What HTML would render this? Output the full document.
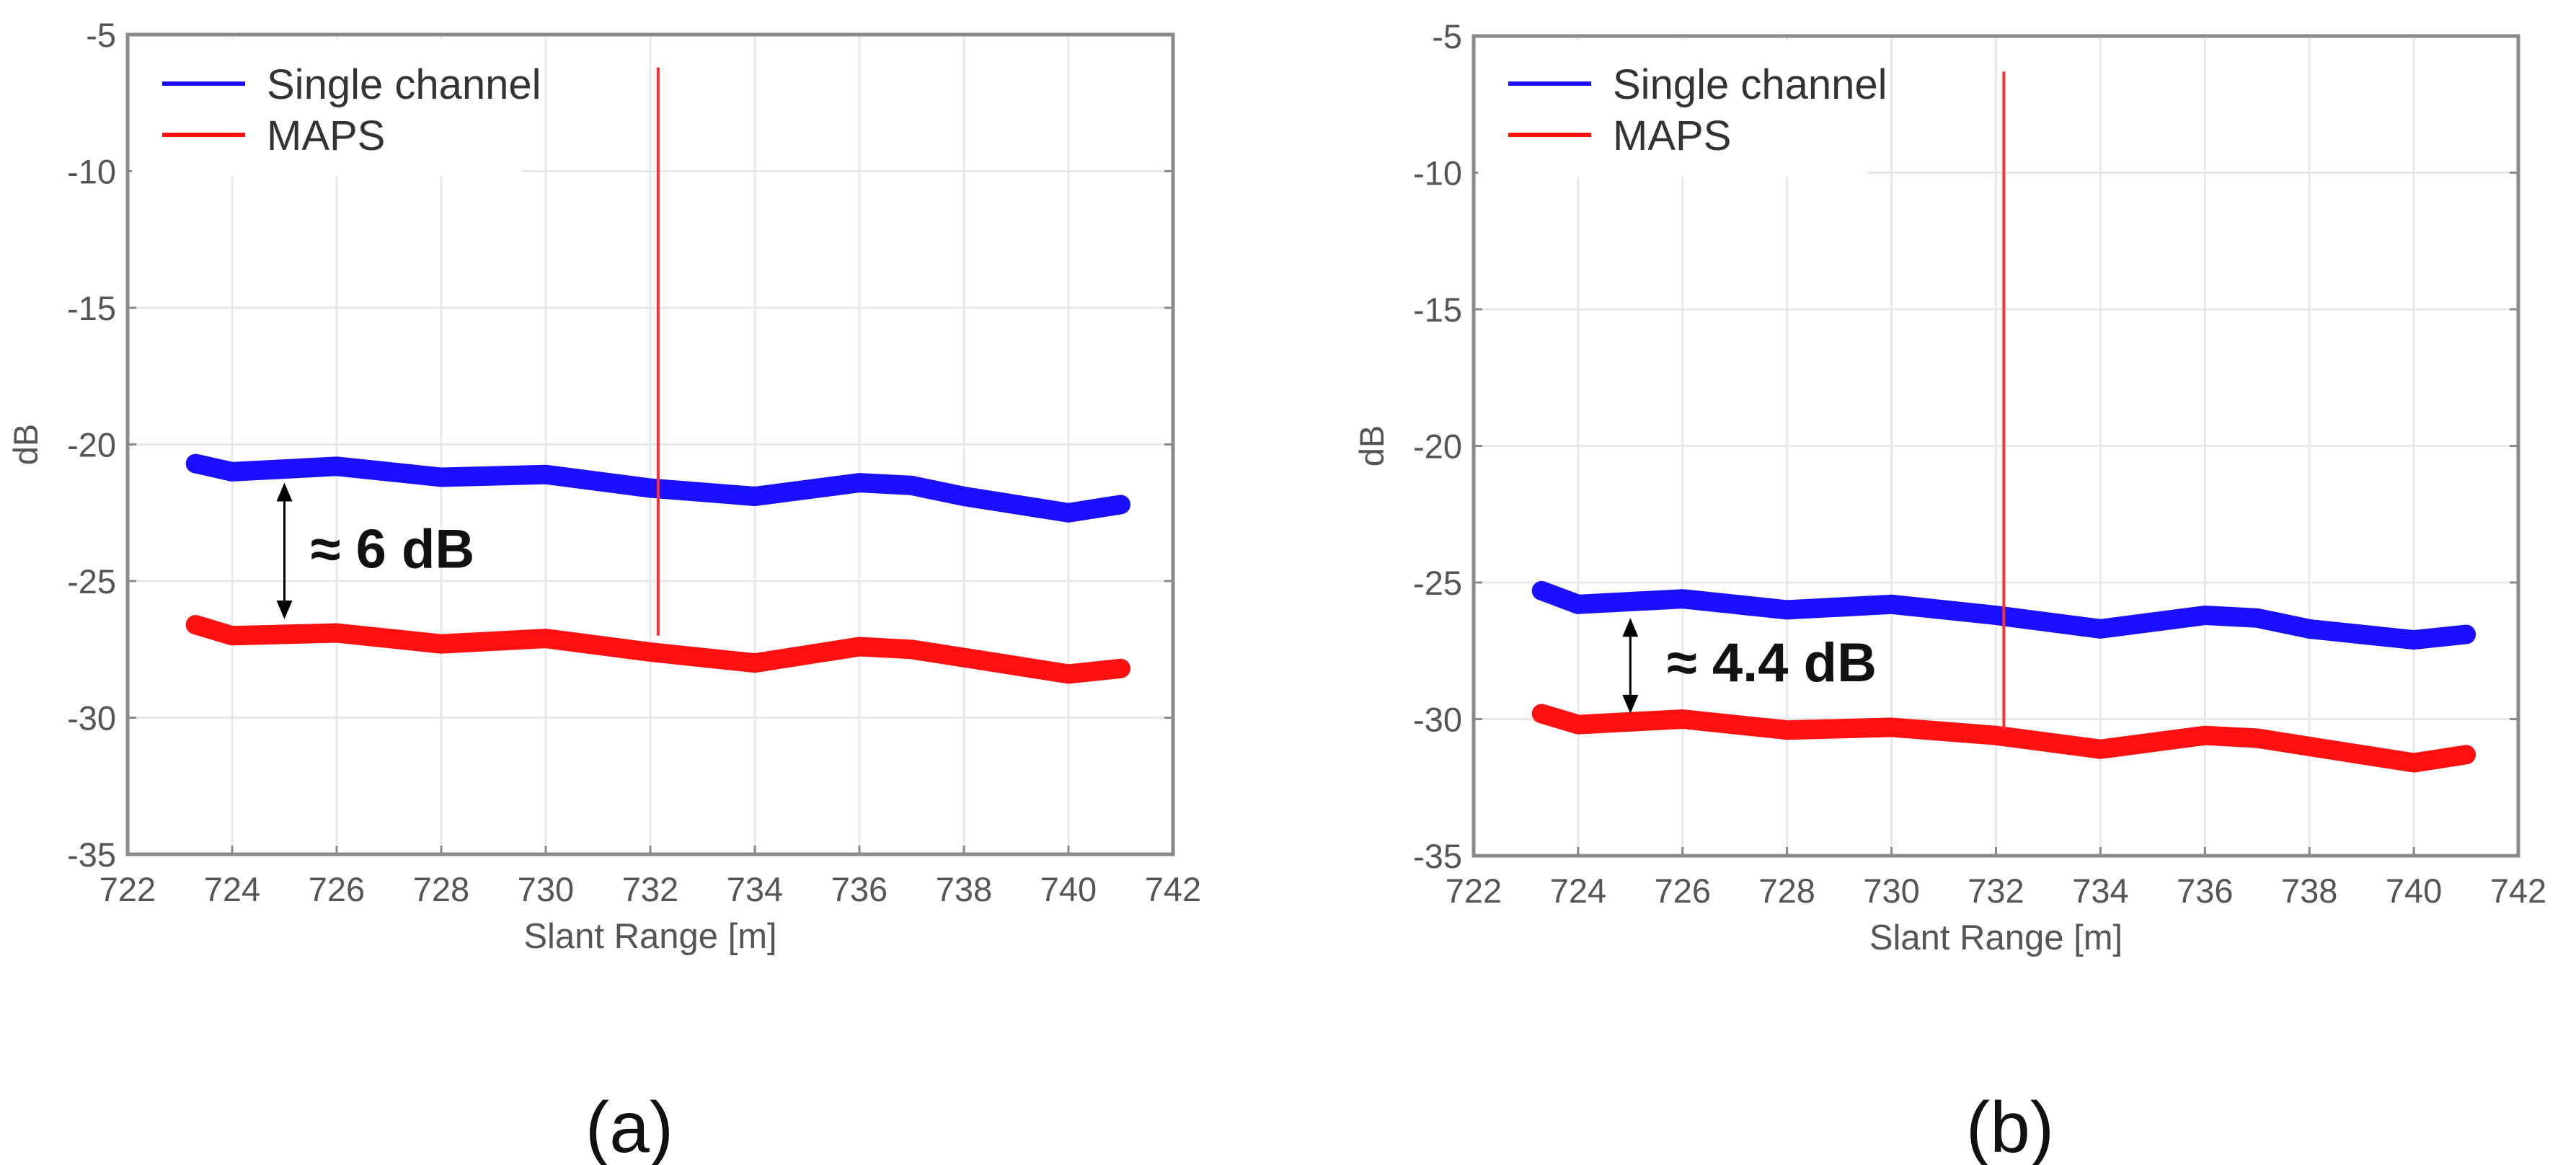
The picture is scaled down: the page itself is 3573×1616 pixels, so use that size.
<!DOCTYPE html>
<html><head><meta charset="utf-8"><style>
body{margin:0;background:#fff;}
svg{display:block;font-family:"Liberation Sans",sans-serif;}
</style></head><body>
<svg id="fig" width="3573" height="1616" viewBox="0 0 3573 1616"></svg>
<script>
const xTicks=[722,724,726,728,730,732,734,736,738,740,742];
const yTicks=[-5,-10,-15,-20,-25,-30,-35];
const rangeX=[723.3,724,726,728,730,732,734,736,737,738,740,741];
const singleA=[-20.7,-21.0,-20.8,-21.2,-21.1,-21.6,-21.9,-21.4,-21.5,-21.9,-22.5,-22.2];
const mapsA=[-26.6,-27.0,-26.9,-27.3,-27.1,-27.6,-28.0,-27.4,-27.5,-27.8,-28.4,-28.2];
const singleB=[-25.3,-25.8,-25.6,-26.0,-25.8,-26.2,-26.7,-26.2,-26.3,-26.7,-27.1,-26.9];
const mapsB=[-29.8,-30.2,-30.0,-30.4,-30.3,-30.6,-31.1,-30.6,-30.7,-31.0,-31.6,-31.3];
const spikeX=[732.15,732.15];
const spikeA=[-27.0,-6.2];
const spikeB=[-30.4,-6.3];
const gapLabels=["≈ 6 dB","≈ 4.4 dB"];
const gapArrowA=[-21.4,-26.4];
const gapArrowB=[-26.3,-29.8];

const NS="http://www.w3.org/2000/svg";
const svg=document.getElementById('fig');
function mk(tag,attrs,parent){const e=document.createElementNS(NS,tag);for(const k in attrs)e.setAttribute(k,attrs[k]);(parent||svg).appendChild(e);return e;}

function panel(L,T,R,B,sing,maps,spike,arrow,label,labelPos,tag,tagX,name){
  const g=mk('g',{});
  
  
  const sx=v=>L+(v-722)/20*(R-L);
  const sy=v=>T+(-5-v)/30*(B-T);
  xTicks.forEach(t=>{const l=mk('line',{x1:sx(t),x2:sx(t),y1:T,y2:B,stroke:'#e8e8e8','stroke-width':3},g);
    
    mk('line',{x1:sx(t),x2:sx(t),y1:B,y2:B-12,stroke:'#888','stroke-width':3},g);
    const tx=mk('text',{x:sx(t),y:B+65,'text-anchor':'middle','font-size':47,fill:'#555'},g);tx.textContent=t;
    });
  yTicks.forEach(t=>{const l=mk('line',{x1:L,x2:R,y1:sy(t),y2:sy(t),stroke:'#e8e8e8','stroke-width':3},g);
    
    mk('line',{x1:L,x2:L+12,y1:sy(t),y2:sy(t),stroke:'#888','stroke-width':3},g);
    mk('line',{x1:R,x2:R-12,y1:sy(t),y2:sy(t),stroke:'#888','stroke-width':3},g);
    const tx=mk('text',{x:L-16,y:sy(t)+17,'text-anchor':'end','font-size':47,fill:'#555'},g);tx.textContent=t;
    });
  const lb=mk('rect',{x:L+6,y:T+6,width:540,height:190,fill:'#fff'},g);
  
  const pts=arr=>arr.map((v,i)=>sx(rangeX[i]).toFixed(1)+','+sy(v).toFixed(1)).join(' ');
  const sb=mk('polyline',{points:pts(sing),fill:'none',stroke:'#1a10ff','stroke-width':27,'stroke-linejoin':'round','stroke-linecap':'round'},g);
  
  const mr=mk('polyline',{points:pts(maps),fill:'none',stroke:'#ff1010','stroke-width':27,'stroke-linejoin':'round','stroke-linecap':'round'},g);
  
  const sp=mk('line',{x1:sx(spikeX[0]),x2:sx(spikeX[1]),y1:sy(spike[0]),y2:sy(spike[1]),stroke:'#ff3030','stroke-width':4},g);
  
  const ax=mk('rect',{x:L,y:T,width:R-L,height:B-T,fill:'none',stroke:'#8a8a8a','stroke-width':5},g);
  
  [['Single channel','#1a10ff',116],['MAPS','#ff1010',187]].forEach(([t,c,y])=>{
    const e=mk('g',{},g);
    
    mk('line',{x1:L+48,x2:L+163,y1:y,y2:y,stroke:c,'stroke-width':6},e);
    const tx=mk('text',{x:L+193,y:y+21,'font-size':58,fill:'#333'},e);tx.textContent=t;});
  const ax1=sx(725);
  const ar=mk('g',{},g);
  
  const ya=sy(arrow[0]),yb=sy(arrow[1]);
  mk('line',{x1:ax1,x2:ax1,y1:ya+20,y2:yb-20,stroke:'#000','stroke-width':3},ar);
  mk('polygon',{points:`${ax1},${ya} ${ax1-11},${ya+26} ${ax1+11},${ya+26}`,fill:'#000'},ar);
  mk('polygon',{points:`${ax1},${yb} ${ax1-11},${yb-26} ${ax1+11},${yb-26}`,fill:'#000'},ar);
  const gl=mk('text',{x:sx(labelPos[0]),y:sy(labelPos[1])+27,'font-size':76,'font-weight':'bold',fill:'#111'},g);
  gl.textContent=label;
  
  const xl=mk('text',{x:(L+R)/2,y:B+130,'text-anchor':'middle','font-size':49,fill:'#555'},g);xl.textContent='Slant Range [m]';
  
  const yl=mk('text',{x:0,y:0,'text-anchor':'middle','font-size':47,fill:'#555',transform:`translate(${L-125},${sy(-20)}) rotate(-90)`},g);yl.textContent='dB';
  
  const tg=mk('text',{x:tagX,y:1598,'text-anchor':'middle','font-size':100,fill:'#111'},g);tg.textContent=tag;
  
}
panel(177,48,1627,1185,singleA,mapsA,spikeA,gapArrowA,gapLabels[0],[725.5,-23.8],'(a)',873,'panel-a');
panel(2044,50,3493,1187,singleB,mapsB,spikeB,gapArrowB,gapLabels[1],[725.7,-27.9],'(b)',2788,'panel-b');
</script>
</body></html>
